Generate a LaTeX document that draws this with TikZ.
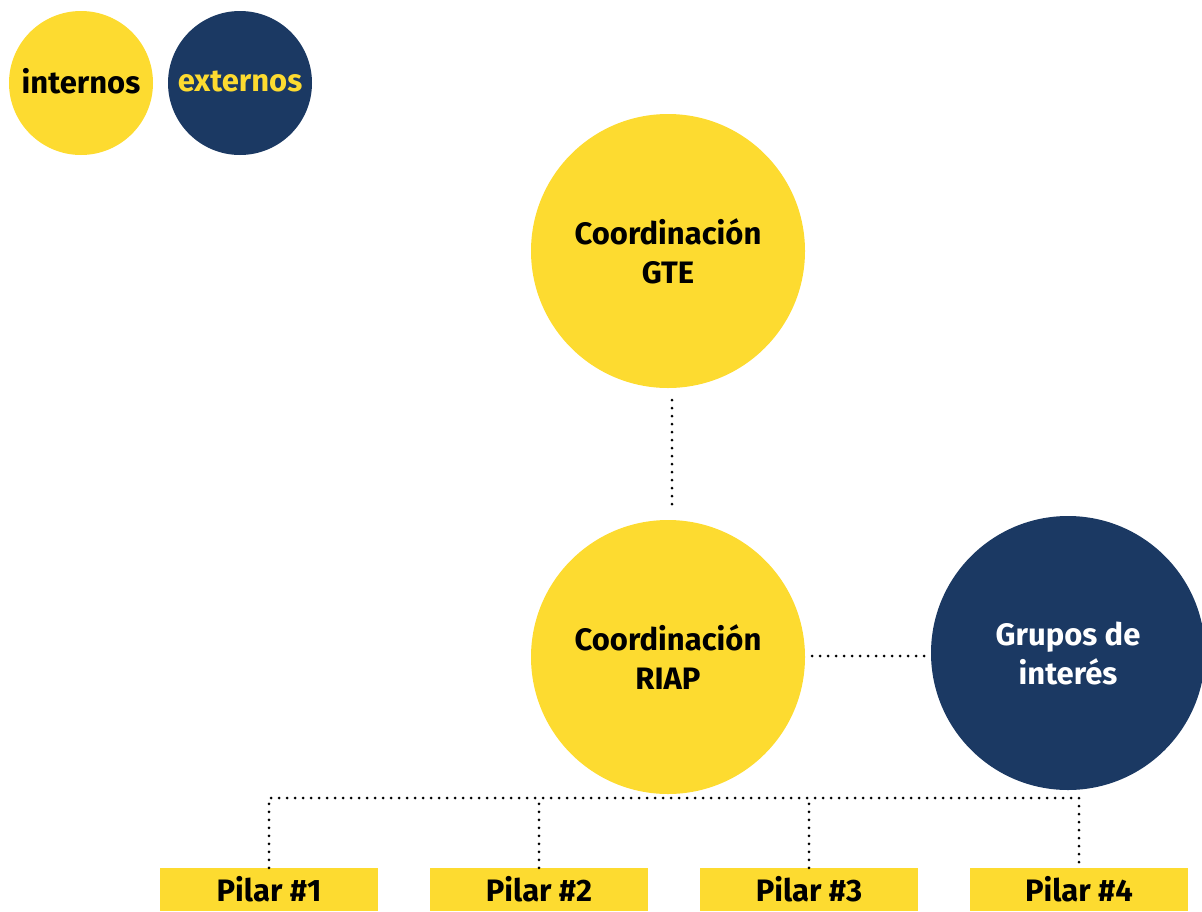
\documentclass[tikz,border=0pt]{standalone}
\usepackage{fontspec}
\setmainfont{Fira Sans}
\definecolor{ylw}{HTML}{FDDB30}
\definecolor{navy}{HTML}{1B3963}
\begin{document}
\begin{tikzpicture}[x=1pt,y=-1pt,
  circY/.style={circle,fill=ylw,text=black,inner sep=0pt,font=\bfseries\fontsize{31}{39}\selectfont,align=center},
  circN/.style={circle,fill=navy,text=ylw,inner sep=0pt,font=\bfseries\fontsize{31}{39}\selectfont,align=center},
  pilar/.style={rectangle,fill=ylw,minimum width=218pt,minimum height=43pt,inner sep=0pt,font=\bfseries\fontsize{31}{34}\selectfont},
  dots/.style={line width=3pt,line cap=round,dash pattern=on 0pt off 8pt,black}]
\useasboundingbox (0,0) rectangle (1202,911);
\node[circY,minimum size=144pt,text depth=4pt] (int) at (81,83) {internos};
\node[circN,minimum size=144pt,text depth=4pt] (ext) at (240,83) {externos};
\node[circY,minimum size=274pt] (gte) at (668,251) {Coordinación\\GTE};
\node[circY,minimum size=274pt] (riap) at (668,657) {Coordinación\\RIAP};
\node[circN,minimum size=274pt,text=white] (grp) at (1068,653) {Grupos de\\interés};
\node[pilar] (p1) at (269,889.5) {Pilar \#1};
\node[pilar] (p2) at (539,889.5) {Pilar \#2};
\node[pilar] (p3) at (809,889.5) {Pilar \#3};
\node[pilar] (p4) at (1079,889.5) {Pilar \#4};
\coordinate (bus) at (0,798);
\draw[dots,shorten <=12pt,shorten >=13pt] ([xshift=4pt]gte.south) -- ([xshift=4pt]riap.north);
\draw[dots,shorten <=7pt,shorten >=4pt] ([yshift=1pt]riap.east) -- ([yshift=1pt]grp.west |- riap.east);
\draw[dots] (p1.north) -- (p1.north |- bus) -- (p4.north |- bus) -- (p4.north);
\draw[dots] (p2.north) -- (p2.north |- bus);
\draw[dots] (p3.north) -- (p3.north |- bus);
\end{tikzpicture}
\end{document}
